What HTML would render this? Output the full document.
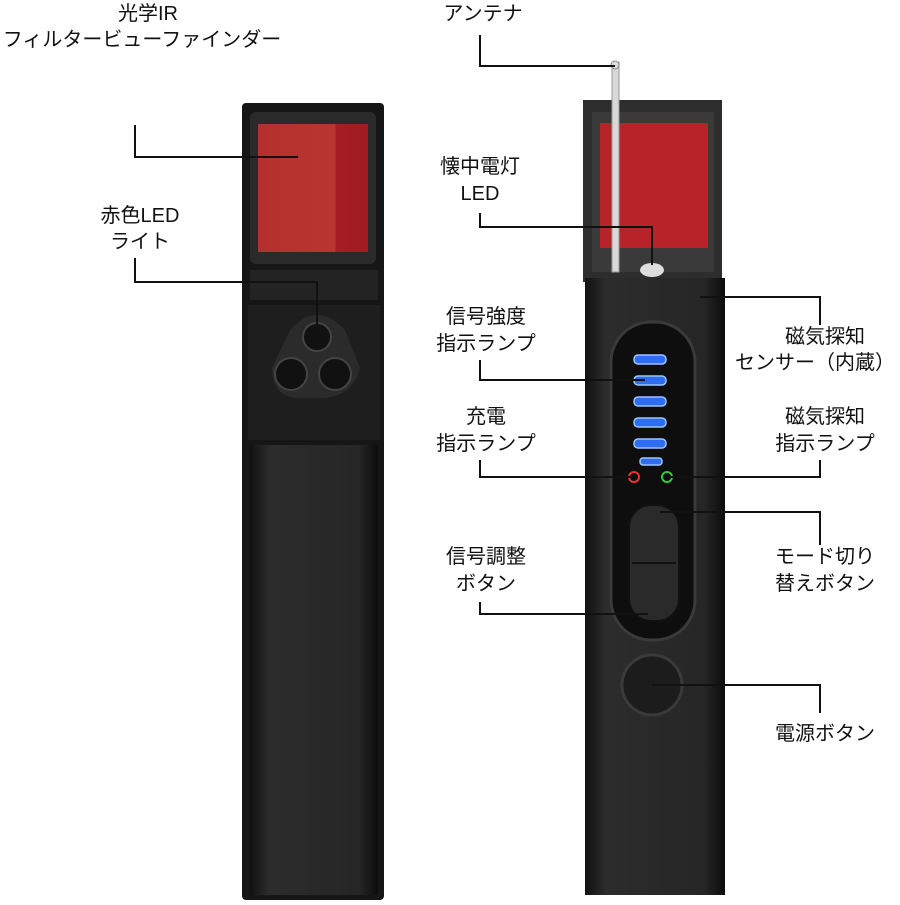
<!DOCTYPE html>
<html><head><meta charset="utf-8"><style>
body{margin:0;background:#fff;width:900px;height:900px;overflow:hidden}
svg text{font-family:"Liberation Sans","Noto Sans CJK JP",sans-serif;font-size:20px;fill:#111}
</style></head><body>
<svg width="900" height="900" viewBox="0 0 900 900">
<defs>
<linearGradient id="bd" x1="0" x2="1"><stop offset="0" stop-color="#111"/><stop offset="0.15" stop-color="#2c2c2c"/><stop offset="0.85" stop-color="#262626"/><stop offset="1" stop-color="#0c0c0c"/></linearGradient>
<linearGradient id="rd" x1="0" x2="1"><stop offset="0" stop-color="#b4302e"/><stop offset="0.7" stop-color="#b93532"/><stop offset="0.71" stop-color="#a51d22"/><stop offset="1" stop-color="#a01c20"/></linearGradient>
</defs>
<!-- Left device -->
<rect x="242" y="103" width="142" height="797" rx="4" fill="#161616"/>
<rect x="250" y="112" width="126" height="152" rx="6" fill="#2a2a2a"/>
<rect x="258" y="124" width="110" height="128" fill="url(#rd)"/>
<rect x="250" y="270" width="128" height="30" fill="#232323"/>
<rect x="248" y="305" width="132" height="135" fill="#1e1e1e"/>
<path d="M290 330 Q317 300 345 330 L360 368 Q352 398 320 398 L300 398 Q272 398 272 368Z" fill="#2b2b2b"/>
<circle cx="317" cy="337" r="14" fill="#111" stroke="#444" stroke-width="2"/>
<circle cx="291" cy="374" r="16" fill="#111" stroke="#444" stroke-width="2"/>
<circle cx="335" cy="374" r="16" fill="#111" stroke="#444" stroke-width="2"/>
<rect x="250" y="445" width="128" height="450" fill="url(#bd)"/>
<!-- Right device -->
<rect x="583" y="100" width="139" height="182" fill="#2d2d2d"/>
<rect x="592" y="112" width="122" height="160" fill="#3a3a3a"/>
<rect x="600" y="123" width="108" height="125" fill="#b8232a"/>
<ellipse cx="652" cy="270" rx="12" ry="7" fill="#ddd"/>
<rect x="585" y="278" width="140" height="617" fill="url(#bd)"/>
<rect x="611" y="322" width="84" height="318" rx="40" fill="#0e0e0e" stroke="#3a3a3a" stroke-width="3"/>
<g fill="#2e6cf0" stroke="#9cc4ff" stroke-width="1.5">
<rect x="634" y="355" width="32" height="9" rx="4"/><rect x="634" y="376" width="32" height="9" rx="4"/>
<rect x="634" y="397" width="32" height="9" rx="4"/><rect x="634" y="418" width="32" height="9" rx="4"/>
<rect x="634" y="439" width="32" height="9" rx="4"/><rect x="640" y="458" width="22" height="7" rx="3"/></g>
<circle cx="634" cy="477" r="5" fill="none" stroke="#e33" stroke-width="2"/>
<circle cx="667" cy="477" r="5" fill="none" stroke="#3c3" stroke-width="2"/>
<rect x="629" y="505" width="50" height="116" rx="22" fill="#2a2a2a" stroke="#111" stroke-width="2"/>
<line x1="632" y1="563" x2="676" y2="563" stroke="#111" stroke-width="2"/>
<circle cx="652" cy="685" r="30" fill="#1c1c1c" stroke="#3a3a3a" stroke-width="3"/>
<rect x="612" y="62" width="7" height="210" fill="#d8d8d8" stroke="#999" stroke-width="1"/>
<circle cx="615" cy="65" r="4" fill="#ddd" stroke="#888"/>
<!-- leader lines -->
<g stroke="#111" stroke-width="2" fill="none">
<polyline points="135,125 135,157 298,157"/>
<polyline points="135,258 135,282 317,282 317,330"/>
<polyline points="480,35 480,66 615,66"/>
<polyline points="480,213 480,227 652,227 652,265"/>
<polyline points="820,325 820,297 700,297"/>
<polyline points="480,360 480,380 645,380"/>
<polyline points="480,460 480,477 630,477"/>
<polyline points="820,460 820,477 670,477"/>
<polyline points="820,545 820,512 660,512"/>
<polyline points="480,602 480,614 648,614"/>
<polyline points="820,713 820,685 652,685"/>
</g>
<text x="148" y="20" text-anchor="middle">光学IR</text>
<text x="142" y="46" text-anchor="middle">フィルタービューファインダー</text>
<text x="140" y="222" text-anchor="middle">赤色LED</text>
<text x="140" y="248" text-anchor="middle">ライト</text>
<text x="483" y="20" text-anchor="middle">アンテナ</text>
<text x="480" y="173" text-anchor="middle">懐中電灯</text>
<text x="480" y="200" text-anchor="middle">LED</text>
<text x="486" y="323" text-anchor="middle">信号強度</text>
<text x="486" y="350" text-anchor="middle">指示ランプ</text>
<text x="486" y="423" text-anchor="middle">充電</text>
<text x="486" y="450" text-anchor="middle">指示ランプ</text>
<text x="486" y="563" text-anchor="middle">信号調整</text>
<text x="486" y="590" text-anchor="middle">ボタン</text>
<text x="825" y="343" text-anchor="middle">磁気探知</text>
<text x="815" y="369" text-anchor="middle">センサー（内蔵）</text>
<text x="825" y="423" text-anchor="middle">磁気探知</text>
<text x="825" y="450" text-anchor="middle">指示ランプ</text>
<text x="825" y="563" text-anchor="middle">モード切り</text>
<text x="825" y="590" text-anchor="middle">替えボタン</text>
<text x="825" y="740" text-anchor="middle">電源ボタン</text>
</svg>
</body></html>
